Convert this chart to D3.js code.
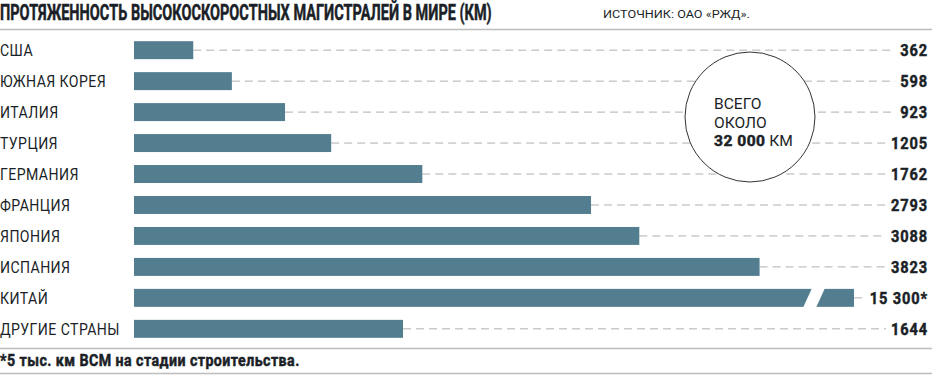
<!DOCTYPE html>
<html>
<head>
<meta charset="utf-8"/>
<script src="https://cdn.jsdelivr.net/npm/d3@7"></script>
<style>
  body { margin:0; background:#fff; }
  text { font-family:Roboto,"DejaVu Sans",sans-serif; fill:#1b1f27; }
  .heavy { stroke:#1b1f27; stroke-width:0.5px; }
</style>
</head>
<body>
<svg id="chart" width="932" height="375"></svg>
<script>
  // data
  let countries = ["США","ЮЖНАЯ КОРЕЯ","ИТАЛИЯ","ТУРЦИЯ","ГЕРМАНИЯ","ФРАНЦИЯ","ЯПОНИЯ","ИСПАНИЯ","КИТАЙ","ДРУГИЕ СТРАНЫ"];
  let km = [362, 598, 923, 1205, 1762, 2793, 3088, 3823, 15300, 1644];
  let valueLabels = ["362","598","923","1205","1762","2793","3088","3823","15 300*","1644"];

  let svg = d3.select("#chart");
  let barColor = "#527e90";

  // no condensed font installed, so squash the text horizontally
  function squeeze(sel, sx) {
    sel.each(function() {
      let s = d3.select(this);
      let tx = +s.attr("x"), ty = +s.attr("y");
      s.attr("x", 0).attr("y", 0)
        .attr("transform", "translate(" + tx + "," + ty + ") scale(" + sx + ",1)");
    });
  }
  // scale factor so the given text gets the wanted width
  function fitScale(node, w) {
    return w / node.getBBox().width;
  }

  // x scale is clamped so the china bar gets cut
  let x = d3.scaleLinear().domain([0, 4400]).range([134, 854]).clamp(true);
  let y = d3.scaleBand().domain(countries).range([35, 344]).paddingInner(0.42).paddingOuter(0.2);

  // title
  let title = svg.append("text")
    .attr("class", "heavy")
    .text("ПРОТЯЖЕННОСТЬ ВЫСОКОСКОРОСТНЫХ МАГИСТРАЛЕЙ В МИРЕ (КМ)")
    .attr("x", 0).attr("y", 20)
    .style("font-size", "22px").style("font-weight", "bold");
  squeeze(title, fitScale(title.node(), 492));
  let src = svg.append("text")
    .text("ИСТОЧНИК: ОАО «РЖД».")
    .attr("x", 603).attr("y", 18)
    .style("font-size", "11px");
  squeeze(src, fitScale(src.node(), 147));
  svg.append("line").attr("x1", 0).attr("x2", 932).attr("y1", 29.5).attr("y2", 29.5)
    .style("stroke", "#bdbdbd").style("stroke-width", 1.5);

  let rows = svg.selectAll("g.row").data(countries).enter().append("g").attr("class", "row");

  // value labels first so we know where the dashes stop
  let vals = rows.append("text")
    .attr("class", "heavy")
    .text((d, i) => valueLabels[i])
    .attr("x", 928)
    .attr("y", d => y(d) + y.bandwidth() / 2 + 6)
    .attr("text-anchor", "end")
    .style("font-size", "17px").style("font-weight", "bold").style("letter-spacing", "1px");
  let valSx = fitScale(vals.nodes()[3], 37);
  squeeze(vals, valSx);

  rows.append("line")
    .attr("x1", (d, i) => x(km[i]))
    .attr("x2", function(d, i) { return 928 - vals.nodes()[i].getBBox().width * valSx - 5; })
    .attr("y1", d => y(d) + y.bandwidth() / 2)
    .attr("y2", d => y(d) + y.bandwidth() / 2)
    .style("stroke", "#b0b0b0").style("stroke-dasharray", "8,5");

  // circle with total
  let circ = svg.append("g");
  circ.append("circle").attr("cx", 750).attr("cy", 117).attr("r", 65)
    .style("fill", "#fff").style("stroke", "#333").style("stroke-width", 1);
  let c1 = circ.append("text").text("ВСЕГО").attr("x", 714).attr("y", 109).style("font-size", "15.5px");
  let c2 = circ.append("text").text("ОКОЛО").attr("x", 714).attr("y", 127.5).style("font-size", "15.5px");
  let t = circ.append("text").attr("x", 714).attr("y", 146).style("font-size", "15.5px");
  t.append("tspan").text("32 000").attr("class", "heavy").style("font-weight", "bold").style("letter-spacing", "0.5px");
  t.append("tspan").text(" КМ");
  let cSx = fitScale(t.node(), 79);
  squeeze(c1, cSx); squeeze(c2, cSx); squeeze(t, cSx);

  rows.append("rect")
    .attr("x", x(0))
    .attr("y", d => y(d))
    .attr("width", (d, i) => x(km[i]) - x(0))
    .attr("height", y.bandwidth())
    .style("fill", barColor);

  // break mark on the cut bar
  let cut = countries[8];
  let y0 = y(cut) - 1, y1 = y(cut) + y.bandwidth() + 1;
  svg.append("path")
    .attr("d", "M" + 812 + "," + y0 + "L" + 825 + "," + y0 + "L" + 816 + "," + y1 + "L" + 803 + "," + y1 + "Z")
    .style("fill", "#fff");

  let labels = rows.append("text")
    .text(d => d)
    .attr("x", 0)
    .attr("y", d => y(d) + y.bandwidth() / 2 + 6)
    .style("font-size", "17px").style("letter-spacing", "0.5px");
  squeeze(labels, fitScale(labels.nodes()[9], 120));

  // footnote
  svg.append("line").attr("x1", 0).attr("x2", 932).attr("y1", 348.5).attr("y2", 348.5)
    .style("stroke", "#bdbdbd").style("stroke-width", 1.5);
  let foot = svg.append("text").text("*5 тыс. км ВСМ на стадии строительства.")
    .attr("class", "heavy")
    .attr("x", 0).attr("y", 366)
    .style("font-size", "16px").style("font-weight", "bold").style("letter-spacing", "0.5px");
  squeeze(foot, fitScale(foot.node(), 300));
  svg.append("line").attr("x1", 0).attr("x2", 932).attr("y1", 373.5).attr("y2", 373.5)
    .style("stroke", "#bdbdbd").style("stroke-width", 1.5);
</script>
</body>
</html>
